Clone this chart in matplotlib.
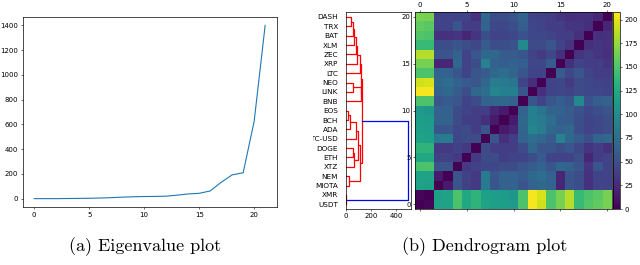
import numpy as np
import matplotlib
matplotlib.use('Agg')
import matplotlib.pyplot as plt
from matplotlib.patches import Rectangle

plt.rcParams['font.size'] = 5
plt.rcParams['axes.linewidth'] = 0.5
for ax_name in ('xtick', 'ytick'):
    plt.rcParams[ax_name + '.major.size'] = 1.6
    plt.rcParams[ax_name + '.major.width'] = 0.4
    plt.rcParams[ax_name + '.major.pad'] = 1.6

# (a) eigenvalues, sorted
eigenvalues = [0, 0, 0, 1, 2, 3, 5, 8, 12, 15, 17, 18, 20, 28, 38, 43,
               62, 132, 192, 209, 625, 1400]

# (b) assets, bottom -> top as in the heatmap / dendrogram
labels = ['USDT', 'XMR', 'MIOTA', 'NEM', 'XTZ', 'ETH', 'DOGE', 'ETC-USD',
          'ADA', 'BCH', 'EOS', 'BNB', 'LINK', 'NEO', 'LTC', 'XRP', 'ZEC',
          'XLM', 'BAT', 'TRX', 'DASH']

# upper triangle of the distance matrix, row i holds columns i+1 .. 20
upper = [
    [3, 120, 120, 148, 125, 135, 120, 117, 116, 112, 150, 205, 193, 150, 165, 185, 140, 152, 158, 166],
    [118, 120, 150, 125, 135, 118, 116, 115, 110, 150, 205, 195, 150, 165, 185, 140, 150, 155, 165],
    [15, 55, 40, 35, 85, 55, 65, 65, 55, 65, 70, 65, 22, 55, 50, 30, 42, 42],
    [55, 40, 35, 85, 55, 65, 65, 60, 70, 75, 65, 22, 55, 50, 30, 42, 42],
    [35, 40, 45, 45, 48, 48, 55, 60, 65, 55, 70, 65, 55, 32, 55, 42],
    [35, 48, 48, 38, 42, 42, 50, 60, 42, 42, 42, 50, 22, 38, 42],
    [48, 38, 38, 38, 48, 70, 55, 55, 50, 55, 45, 32, 38, 30],
    [55, 28, 38, 65, 75, 70, 60, 92, 70, 60, 50, 65, 70],
    [15, 22, 68, 95, 88, 70, 65, 70, 50, 42, 45, 50],
    [15, 70, 90, 85, 75, 62, 60, 50, 42, 45, 50],
    [65, 90, 80, 68, 65, 60, 52, 45, 50, 55],
    [55, 42, 55, 62, 55, 98, 52, 62, 65],
    [28, 42, 45, 42, 48, 45, 45, 42],
    [42, 45, 35, 48, 45, 42, 40],
    [60, 45, 55, 42, 38, 38],
    [28, 42, 38, 38, 32],
    [32, 38, 32, 28],
    [28, 32, 30],
    [28, 30],
    [22],
]

# merges (child, child, height); new clusters numbered from 21 on
merges = [
    (0, 1, 3),
    (2, 3, 25),
    (10, 9, 15),
    (23, 8, 35),
    (24, 7, 82),
    (5, 6, 60),
    (26, 4, 68),
    (25, 27, 100),
    (28, 22, 116),
    (20, 19, 40),
    (30, 18, 55),
    (31, 17, 68),
    (32, 16, 80),
    (33, 15, 90),
    (34, 14, 110),
    (13, 12, 60),
    (36, 11, 120),
    (35, 37, 123),
    (38, 29, 127),
    (39, 21, 490),
]

n = len(labels)
dist = np.zeros((n, n))
for i, row in enumerate(upper):
    dist[i, i + 1:] = row
dist = dist + dist.T

fig = plt.figure(figsize=(6.4, 2.65), dpi=100)

# (a) eigenvalue plot
ax_e = fig.add_axes([22.7 / 640, 1 - 207.3 / 265, 254 / 640, 190.6 / 265])
ax_e.plot(range(len(eigenvalues)), eigenvalues, color='#1f77b4', lw=0.8)
ax_e.set_xticks([0, 5, 10, 15, 20])
ax_e.set_yticks(range(0, 1401, 200))

# (b) dendrogram
ax_d = fig.add_axes([345.7 / 640, 1 - 209 / 265, 65.1 / 640, 196.7 / 265])
pos = {i: 5 + 10 * i for i in range(n)}
hgt = {i: 0 for i in range(n)}
max_h = max(m[2] for m in merges)
for k, (a, b, h) in enumerate(merges):
    c = 'b' if h > 0.7 * max_h else 'r'
    ax_d.plot([hgt[a], h, h, hgt[b]], [pos[a], pos[a], pos[b], pos[b]],
              color=c, lw=0.9)
    pos[n + k] = (pos[a] + pos[b]) / 2
    hgt[n + k] = h
ax_d.set_xlim(0, max_h * 1.05)
ax_d.set_ylim(0, 10 * n)
ax_d.set_yticks([5 + 10 * i for i in range(n)])
ax_d.set_yticklabels(labels, fontsize=5.2)
ax_d.tick_params(axis='y', length=0, pad=5.5)
ax_d.set_xticks([0, 200, 400])

# heatmap
ax_h = fig.add_axes([415 / 640, 1 - 209 / 265, 197 / 640, 197 / 265])
im = ax_h.imshow(dist, cmap='viridis', origin='lower', vmin=0, vmax=208,
                 aspect='auto', interpolation='nearest')
ax_h.set_xticks([0, 5, 10, 15, 20])
ax_h.set_yticks([0, 5, 10, 15, 20])
ax_h.tick_params(top=True, labeltop=True, bottom=True, labelbottom=False)

cax = fig.add_axes([613.3 / 640, 1 - 209 / 265, 6.7 / 640, 197 / 265])
cb = fig.colorbar(im, cax=cax, ticks=range(0, 201, 25))
cb.outline.set_linewidth(0.5)

# panel (b) was cropped on its left: blank the strip before it
fig.add_artist(Rectangle((280 / 640, 0.25), 32.5 / 640, 0.75,
                         transform=fig.transFigure, facecolor='white',
                         edgecolor='none', zorder=5))

fig.text(145 / 640, 1 - 247 / 265, '(a) Eigenvalue plot', ha='center',
         va='center', fontsize=13, family='cmr10')
fig.text(485 / 640, 1 - 247 / 265, '(b) Dendrogram plot', ha='center',
         va='center', fontsize=13, family='cmr10')

fig.savefig('out.png', dpi=100)
